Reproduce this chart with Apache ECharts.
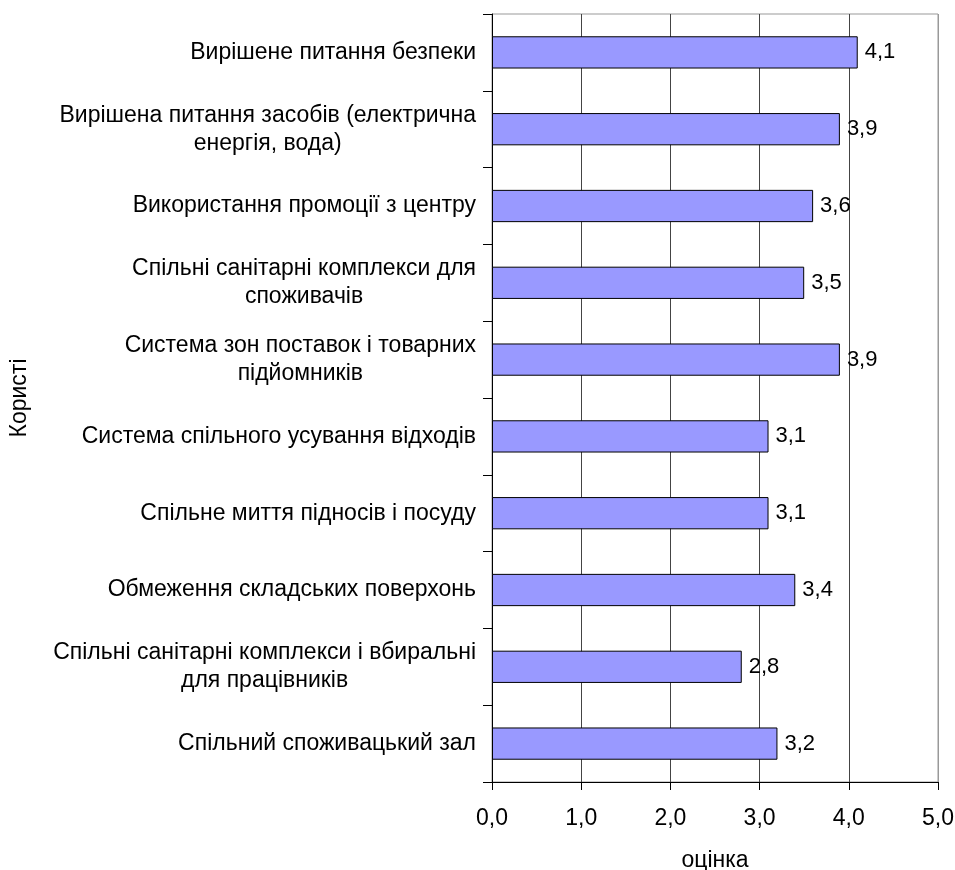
<!DOCTYPE html>
<html>
<head>
<meta charset="utf-8">
<script src="https://cdn.jsdelivr.net/npm/echarts@6/dist/echarts.min.js"></script>
<style>html,body{margin:0;padding:0;background:#fff}#c{width:955px;height:870px}</style>
</head>
<body>
<div id="c"></div>
<script>
var categories = [
  'Вирішене питання безпеки',
  'Вирішена питання засобів (електрична\nенергія, вода)',
  'Використання промоції з центру',
  'Спільні санітарні комплекси для\nспоживачів',
  'Система зон поставок і товарних\nпідйомників',
  'Система спільного усування відходів',
  'Спільне миття підносів і посуду',
  'Обмеження складських поверхонь',
  'Спільні санітарні комплекси і вбиральні\nдля працівників',
  'Спільний споживацький зал'
];
var values = [4.1, 3.9, 3.6, 3.5, 3.9, 3.1, 3.1, 3.4, 2.8, 3.2];
var xTicks = [0, 1, 2, 3, 4, 5];

var FONT = '"Liberation Sans", Arial, sans-serif';
var chart = echarts.init(document.getElementById('c'), null, {renderer: 'canvas'});
chart.setOption({
  animation: false,
  backgroundColor: '#fff',
  grid: {left: 492, right: 17, top: 14, bottom: 88, containLabel: false, outerBoundsMode: 'none',
    show: true, borderColor: '#999', borderWidth: 1},
  xAxis: {
    type: 'value', min: xTicks[0], max: xTicks[xTicks.length - 1], interval: 1,
    name: 'оцінка', nameLocation: 'middle', nameGap: 67,
    nameTextStyle: {fontFamily: FONT, fontSize: 23, color: '#000'},
    axisLine: {show: true, lineStyle: {color: '#000', width: 1}},
    axisTick: {show: true, length: 8, lineStyle: {color: '#000'}},
    axisLabel: {fontFamily: FONT, fontSize: 23, color: '#000', margin: 25,
      formatter: function (v) { return v.toFixed(1).replace('.', ','); }},
    splitLine: {show: true, lineStyle: {color: ['#444', '#444', '#444', '#444', '#444', '#999'], width: 1}}
  },
  yAxis: {
    type: 'category', data: categories, inverse: true,
    name: 'Користі', nameLocation: 'middle', nameGap: 461, nameRotate: 90,
    nameTextStyle: {fontFamily: FONT, fontSize: 23, color: '#000'},
    axisLine: {show: true, lineStyle: {color: '#000', width: 1}},
    axisTick: {show: true, length: 9, lineStyle: {color: '#000'}},
    axisLabel: {
      fontFamily: FONT, fontSize: 23, color: '#000', margin: 16, lineHeight: 28,
      formatter: function (v) {
        return v.split('\n').map(function (s) { return '{c|' + s + '}'; }).join('\n');
      },
      rich: {c: {align: 'center', fontFamily: FONT, fontSize: 23, color: '#000', lineHeight: 28}}
    },
    splitLine: {show: false}
  },
  series: [{
    type: 'bar', data: values, barWidth: '42%',
    itemStyle: {color: '#9999FF', borderColor: '#000', borderWidth: 1},
    label: {show: true, position: 'right', distance: 7, fontFamily: FONT, fontSize: 22, color: '#000',
      formatter: function (p) { return p.value.toFixed(1).replace('.', ','); }}
  }]
});
</script>
</body>
</html>
